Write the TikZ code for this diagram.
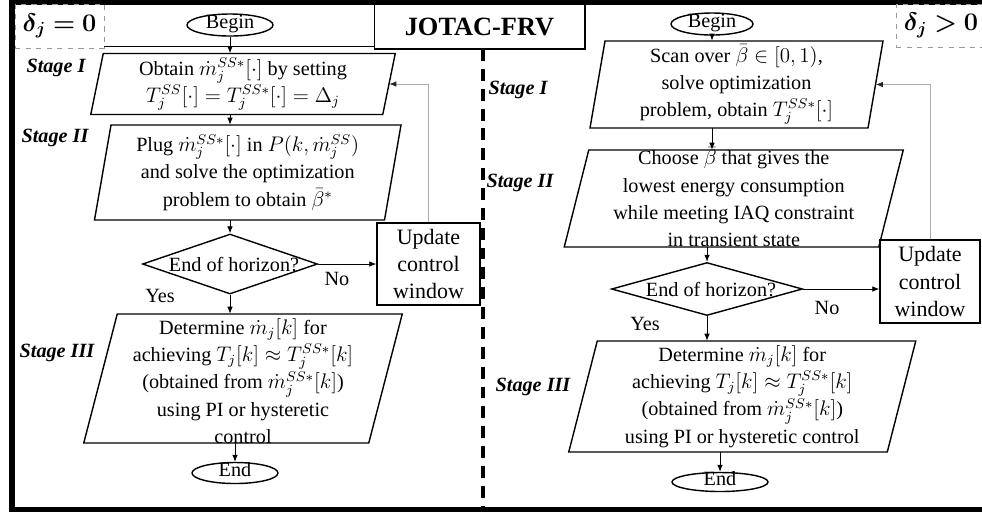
\documentclass[tikz,border=0pt]{standalone}
\usepackage{fontspec}
\setmainfont{Liberation Serif}
\usepackage{bm}
\usetikzlibrary{shapes.geometric,arrows.meta,calc}
\newcommand\parabox[4]{\draw[shp] ($(#1.center)+(-#2+#4,-#3)$) -- ($(#1.center)+(#2+#4,-#3)$) -- ($(#1.center)+(#2-#4,#3)$) -- ($(#1.center)+(-#2-#4,#3)$) -- cycle;}
\begin{document}
\begin{tikzpicture}[x=0.02cm,y=-0.02cm,
  txt/.style={font=\fontsize{11.5}{15.5}\selectfont, align=center, inner sep=0},
  pnode/.style={draw=none, rectangle, inner sep=0},
  shp/.style={draw, line width=0.8pt},
  term/.style={ellipse, draw, line width=0.8pt, inner sep=0, font=\fontsize{11.5}{14}\selectfont, text height=0.17cm, text depth=0.03cm},
  decis/.style={diamond, draw, line width=0.8pt, inner sep=0},
  updbox/.style={rectangle, draw, line width=0.8pt, inner sep=0, align=center, font=\fontsize{12.5}{15.5}\selectfont},
  arr/.style={-{Latex[length=4pt,width=3.2pt]}, line width=0.5pt},
  fb/.style={-{Latex[length=4pt,width=3.2pt,color=black!85]}, line width=0.5pt, draw=gray!65},
  stagelbl/.style={font=\fontsize{11.5}{14}\selectfont\bfseries\itshape, inner sep=0},
  deltabox/.style={draw=gray!80, dashed, line width=0.5pt, inner sep=0, font=\fontsize{14}{16}\selectfont}
]
\useasboundingbox (0,0) rectangle (982,512);
% frame
\fill[black] (9,0) rectangle (982,4.5);
\fill[black] (9,0) rectangle (15,512);
\fill[black] (9,507) rectangle (982,512);
\node[draw, line width=0.6pt, minimum width=4.22cm, minimum height=0.9cm, inner sep=0, font=\fontsize{15}{18}\selectfont\bfseries] (title) at (479.5,26.5) {JOTAC-FRV};
\node[deltabox, minimum width=1.78cm, minimum height=0.88cm] (dlt0) at (59.5,26) {$\bm{\delta_j = 0}$};
\node[deltabox, minimum width=1.8cm, minimum height=0.86cm] (dlt1) at (941,25.5) {$\bm{\delta_j > 0}$};
\draw[line width=0.6pt] (104,46.5) -- (374,46.5);
\draw[line width=2pt, dash pattern=on 6.8pt off 4.5pt] (483,49) -- (483,507);

% ---------------- left ----------------
\node[term, minimum width=1.72cm, minimum height=0.44cm] (bL) at (230,25) {Begin};
\node[pnode, minimum width=5.84cm, minimum height=1.22cm] (b1L) at (243,84) {};
\parabox{b1L}{146}{30.5}{6.25}
\node[txt] (t1L) at (b1L) {Obtain $\dot{m}_j^{SS*}[\cdot]$ by setting\\ $T_j^{SS}[\cdot]=T_j^{SS*}[\cdot]=\Delta_j$};
\node[pnode, minimum width=5.8cm, minimum height=1.9cm] (b2L) at (247.75,172.5) {};
\parabox{b2L}{145}{47.5}{8.25}
\node[txt] (t2L) at (b2L) {Plug $\dot{m}_j^{SS*}[\cdot]$ in $P(k,\dot{m}_j^{SS})$\\ and solve the optimization\\ problem to obtain $\bar{\beta}^*$};
\node[decis, minimum width=3.5cm, minimum height=1.2cm] (dL) at (230,264) {};
\node[txt] (tdL) at (234,265) {End of horizon?};
\node[updbox, minimum width=2.06cm, minimum height=1.64cm] (uL) at (428.5,264) {Update\\ control\\ window};
\node[pnode, minimum width=5.7cm, minimum height=2.58cm] (b3L) at (243,378.5) {};
\parabox{b3L}{142.5}{64.5}{16.75}
\node[txt] (t3L) at (243,381) {Determine $\dot{m}_j[k]$ for\\ achieving $T_j[k]\approx T_j^{SS*}[k]$\\ (obtained from $\dot{m}_j^{SS*}[k]$)\\ using PI or hysteretic\\ control};
\node[term, minimum width=1.72cm, minimum height=0.42cm] (eL) at (235,473) {End};
\node[txt] (noL) at (337,279) {No};
\node[txt] (yesL) at (160,296) {Yes};
\node[stagelbl] (s1L) at (56,68) {Stage I};
\node[stagelbl] (s2L) at (55,138) {Stage II};
\node[stagelbl] (s3L) at (57,353) {Stage III};

\draw[arr] (bL) -- (bL |- b1L.north);
\draw[arr] (b1L.south -| dL) -- (b2L.north -| dL);
\draw[arr] (b2L.south -| dL) -- (dL);
\draw[arr] (dL) -- (uL);
\draw[arr] (dL) -- (dL |- b3L.north);
\draw[arr] (b3L.south -| eL) -- (eL);
\draw[fb] (uL.north) |- (b1L.east);

% ---------------- right ----------------
\node[term, minimum width=1.64cm, minimum height=0.44cm] (bR) at (712,24) {Begin};
\node[pnode, minimum width=5.56cm, minimum height=1.74cm] (b1R) at (736.5,84.5) {};
\parabox{b1R}{139}{43.5}{7.5}
\node[txt] (t1R) at (b1R) {Scan over $\bar{\beta}\in[0,1)$,\\ solve optimization\\ problem, obtain $T_j^{SS*}[\cdot]$};
\node[pnode, minimum width=6.29cm, minimum height=1.94cm] (b2R) at (733.75,198.5) {};
\parabox{b2R}{157.25}{48.5}{12.25}
\node[txt] (t2R) at (733.75,197) {Choose $\bar{\beta}$ that gives the\\ lowest energy consumption\\ while meeting IAQ constraint\\ in transient state};
\node[decis, minimum width=3.82cm, minimum height=1.06cm] (dR) at (707,289) {};
\node[txt] (tdR) at (711,290) {End of horizon?};
\node[updbox, minimum width=2.0cm, minimum height=1.66cm] (uR) at (930,281.5) {Update\\ control\\ window};
\node[pnode, minimum width=6.37cm, minimum height=2.22cm] (b3R) at (742.25,396.5) {};
\parabox{b3R}{159.25}{55.5}{14.25}
\node[txt] (t3R) at (b3R) {Determine $\dot{m}_j[k]$ for\\ achieving $T_j[k]\approx T_j^{SS*}[k]$\\ (obtained from $\dot{m}_j^{SS*}[k]$)\\ using PI or hysteretic control};
\node[term, minimum width=1.92cm, minimum height=0.38cm] (eR) at (720,482) {End};
\node[txt] (noR) at (827,308) {No};
\node[txt] (yesR) at (645,324) {Yes};
\node[stagelbl] (s1R) at (518,90) {Stage I};
\node[stagelbl] (s2R) at (520,183) {Stage II};
\node[stagelbl] (s3R) at (533,387) {Stage III};

\draw[arr] (bR) -- (bR |- b1R.north);
\draw[arr] (b1R.south -| bR) -- (b2R.north -| bR);
\draw[arr] (b2R.south -| dR) -- (dR);
\draw[arr] (dR.east) -- (dR.east -| uR.west);
\draw[arr] (dR) -- (dR |- b3R.north);
\draw[arr] (b3R.south -| eR) -- (eR);
\draw[fb] (uR.north) |- (b1R.east);
\end{tikzpicture}
\end{document}
